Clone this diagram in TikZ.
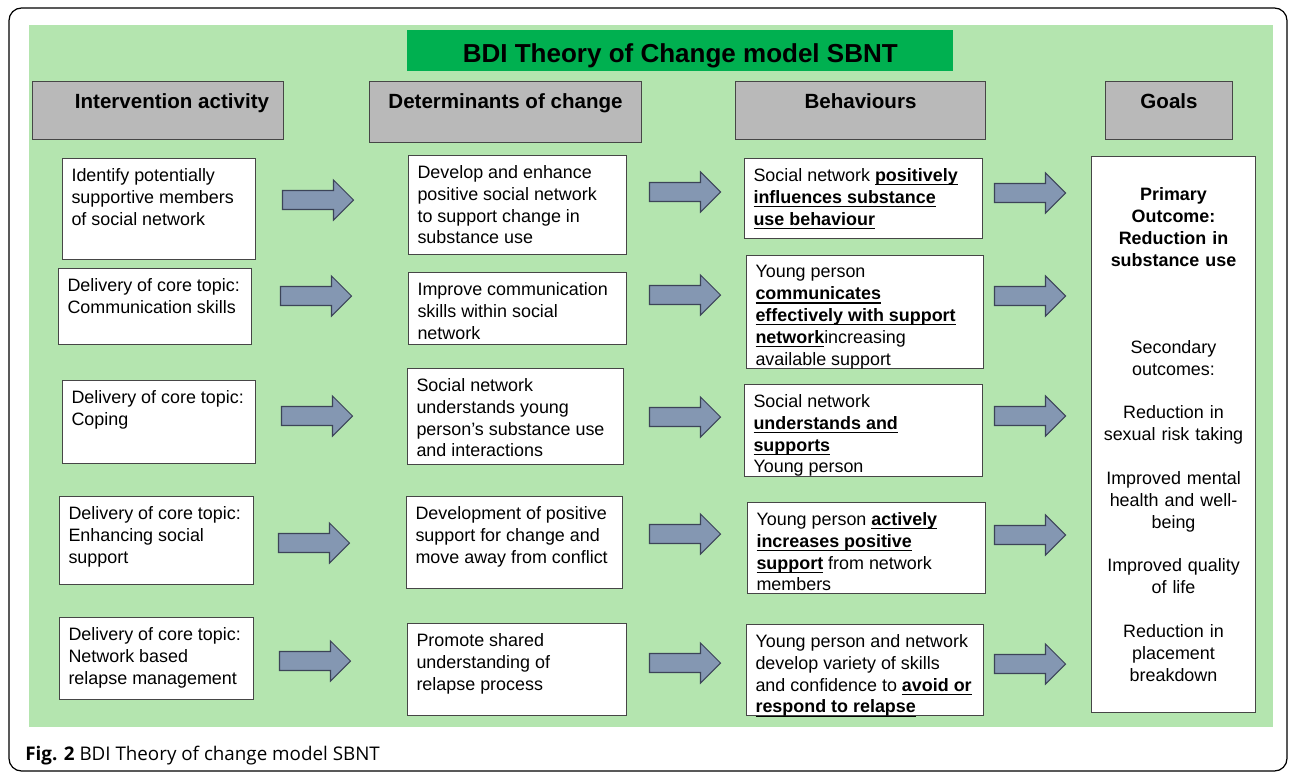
\documentclass[tikz,border=0pt]{standalone}
\usepackage{fontspec}
\setmainfont{Liberation Sans}
\newfontfamily\capfont{Open Sans}
\definecolor{bggreen}{RGB}{180,229,175}
\definecolor{titlegreen}{RGB}{0,176,80}
\definecolor{hdrgray}{RGB}{185,185,185}
\definecolor{edgegray}{RGB}{70,70,70}
\definecolor{arrowblue}{RGB}{132,151,178}
\definecolor{arrowedge}{RGB}{60,68,88}
\newsavebox{\ubfbox}
\newcommand{\ubf}[1]{\leavevmode\sbox{\ubfbox}{\textbf{#1}}\rlap{\rule[-2.2pt]{\wd\ubfbox}{0.7pt}}\usebox{\ubfbox}}
\newcommand{\cellbox}[3]{\parbox[t][#2][t]{#1}{\raggedright #3}}
\begin{document}
\begin{tikzpicture}[x=0.02cm, y=-0.02cm,
    hdr/.style={draw=edgegray, line width=0.6pt, fill=hdrgray, anchor=north west, inner sep=0pt,
        text height=0.54cm, text depth=0.62cm, minimum width=#1,
        font=\bfseries\fontsize{11.7}{14}\selectfont},
    cell/.style={draw=edgegray, line width=0.6pt, fill=white, anchor=north west,
        inner xsep=0.18cm, inner ysep=0.2cm, font=\fontsize{10.2}{12.4}\selectfont},
    barrow/.pic={\draw[fill=arrowblue, draw=arrowedge, line width=0.6pt]
        (-35.5,-9.5) -- (15.5,-9.5) -- (15.5,-20) -- (35.5,0) -- (15.5,20) -- (15.5,9.5) -- (-35.5,9.5) -- cycle;}]
    \useasboundingbox (0,0) rectangle (1292,774);
    \draw[line width=0.7pt, rounded corners=0.25cm] (9,8) rectangle (1287,771);
    \fill[bggreen] (29,25) rectangle (1273,727);

    \node[fill=titlegreen, anchor=north west, minimum width=10.92cm, inner sep=0pt,
        text height=0.64cm, text depth=0.18cm,
        font=\bfseries\fontsize{14.8}{17}\selectfont] (title) at (407,30) {BDI Theory of Change model SBNT};

    \node[hdr=5.02cm] (hint) at (32,81) {\hspace*{0.56cm}Intervention activity};
    \node[hdr=5.44cm, text depth=0.68cm] (hdet) at (369,81) {Determinants of change};
    \node[hdr=5.00cm] (hbeh) at (735,81) {Behaviours};
    \node[hdr=2.54cm] (hgoal) at (1105,81) {Goals};

    \node[cell] (i1) at (62,158) {\cellbox{3.50cm}{1.62cm}{Identify potentially\\ supportive members\\ of social network}};
    \node[cell] (i2) at (58,268) {\cellbox{3.50cm}{1.12cm}{Delivery of core topic:\\ Communication skills}};
    \node[cell] (i3) at (62,380) {\cellbox{3.50cm}{1.26cm}{Delivery of core topic:\\ Coping}};
    \node[cell] (i4) at (59,496) {\cellbox{3.52cm}{1.36cm}{Delivery of core topic:\\ Enhancing social\\ support}};
    \node[cell] (i5) at (59,617) {\cellbox{3.52cm}{1.24cm}{Delivery of core topic:\\ Network based\\ relapse management}};

    \node[cell] (d1) at (408,155) {\cellbox{4.00cm}{1.58cm}{Develop and enhance\\ positive social network\\ to support change in\\ substance use}};
    \node[cell] (d2) at (408,272) {\cellbox{4.00cm}{1.04cm}{Improve communication\\ skills within social\\ network}};
    \node[cell] (d3) at (407,368) {\cellbox{3.96cm}{1.52cm}{Social network\\ understands young\\ person’s substance use\\ and interactions}};
    \node[cell] (d4) at (406,496) {\cellbox{3.96cm}{1.44cm}{Development of positive\\ support for change and\\ move away from conflict}};
    \node[cell] (d5) at (407,623) {\cellbox{4.02cm}{1.44cm}{Promote shared\\ understanding of\\ relapse process}};

    \node[cell] (b1) at (744,158) {\cellbox{4.40cm}{1.20cm}{Social network \ubf{positively}\\ \ubf{influences substance}\\ \ubf{use behaviour}}};
    \node[cell] (b2) at (746,255) {\cellbox{4.38cm}{1.86cm}{Young person\\ \ubf{communicates}\\ \ubf{effectively with support}\\ \ubf{network}increasing\\ available support}};
    \node[cell] (b3) at (744,384) {\cellbox{4.40cm}{1.44cm}{Social network\\ \ubf{understands and}\\ \ubf{supports}\\ Young person}};
    \node[cell] (b4) at (747,502) {\cellbox{4.40cm}{1.42cm}{Young person \ubf{actively}\\ \ubf{increases positive}\\ \ubf{support} from network\\ members}};
    \node[cell] (b5) at (746,624) {\cellbox{4.38cm}{1.42cm}{Young person and network\\ develop variety of skills\\ and confidence to \ubf{avoid or}\\ \ubf{respond to relapse}}};

    \node[draw=edgegray, line width=0.6pt, fill=white, anchor=north west, minimum width=3.28cm, minimum height=11.12cm,
        inner sep=0pt, text width=3.2cm, align=center, font=\fontsize{10.2}{12.4}\selectfont] (goal) at (1091,156)
        {\textbf{Primary}\\ \textbf{Outcome:}\\ \textbf{Reduction in}\\ \textbf{substance use}\\[1.31cm]
        Secondary\\ outcomes:\\[0.44cm] Reduction in\\ sexual risk taking\\[0.44cm]
        Improved mental\\ health and well-\\ being\\[0.44cm] Improved quality\\ of life\\[0.44cm]
        Reduction in\\ placement\\ breakdown};

    \pic (a11) at (318,200) {barrow};
    \pic (a12) at (316,296) {barrow};
    \pic (a13) at (317,416) {barrow};
    \pic (a14) at (314,543) {barrow};
    \pic (a15) at (315,661) {barrow};
    \pic (a21) at (685,192) {barrow};
    \pic (a22) at (685,295) {barrow};
    \pic (a23) at (685,417) {barrow};
    \pic (a24) at (685,534) {barrow};
    \pic (a25) at (685,663) {barrow};
    \pic (a31) at (1030,193) {barrow};
    \pic (a32) at (1030,296) {barrow};
    \pic (a33) at (1030,416) {barrow};
    \pic (a34) at (1030,535) {barrow};
    \pic (a35) at (1030,664) {barrow};

    \node[anchor=base west, inner sep=0pt, font=\capfont\fontsize{10.7}{13}\selectfont] (cap) at (25,760)
        {\textbf{Fig. 2} BDI Theory of change model SBNT};
\end{tikzpicture}
\end{document}
